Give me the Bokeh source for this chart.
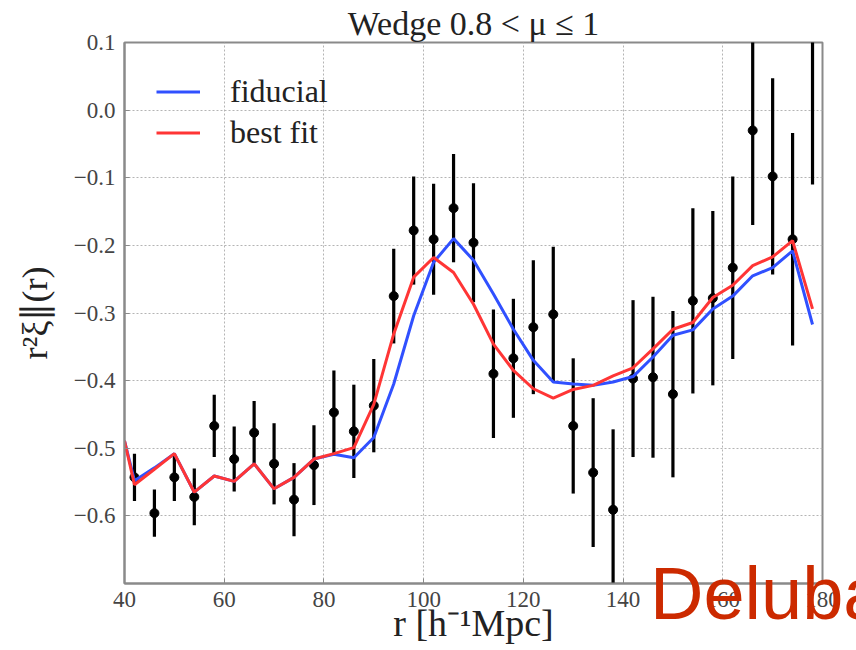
from bokeh.plotting import figure
from bokeh.layouts import column
from bokeh.models import Range1d, FixedTicker, Legend, LegendItem, ColumnDataSource, Div
from bokeh.embed import file_html
from bokeh.resources import INLINE

# ---- data ----
r_data = [42, 46, 50, 54, 58, 62, 66, 70, 74, 78, 82, 86, 90, 94, 98, 102, 106,
          110, 114, 118, 122, 126, 130, 134, 138, 142, 146, 150, 154, 158, 162,
          166, 170, 174, 178]
xi_data = [-0.543, -0.596, -0.543, -0.572, -0.467, -0.516, -0.477, -0.523, -0.576,
           -0.525, -0.447, -0.475, -0.437, -0.275, -0.178, -0.191, -0.145, -0.196,
           -0.390, -0.367, -0.321, -0.302, -0.467, -0.536, -0.591, -0.397, -0.395,
           -0.420, -0.282, -0.278, -0.233, -0.030, -0.098, -0.191, 0.110]
xi_err = [0.035, 0.035, 0.035, 0.042, 0.046, 0.048, 0.047, 0.060, 0.054, 0.059,
          0.062, 0.069, 0.069, 0.070, 0.080, 0.082, 0.080, 0.088, 0.095, 0.088,
          0.099, 0.100, 0.100, 0.110, 0.119, 0.116, 0.119, 0.123, 0.137, 0.129,
          0.135, 0.140, 0.145, 0.157, 0.220]

r_model = [40, 42, 46, 50, 54, 58, 62, 66, 70, 74, 78, 82, 86, 90, 94, 98, 102,
           106, 110, 114, 118, 122, 126, 130, 134, 138, 142, 146, 150, 154, 158,
           162, 166, 170, 174, 178]
fiducial = [-0.489, -0.548, -0.529, -0.508, -0.565, -0.541, -0.549, -0.523, -0.560,
            -0.543, -0.516, -0.509, -0.514, -0.484, -0.405, -0.304, -0.225, -0.190,
            -0.222, -0.272, -0.324, -0.370, -0.402, -0.405, -0.407, -0.402, -0.394,
            -0.365, -0.333, -0.325, -0.294, -0.275, -0.245, -0.233, -0.208, -0.317]
best_fit = [-0.489, -0.554, -0.531, -0.508, -0.565, -0.541, -0.549, -0.523, -0.560,
            -0.543, -0.516, -0.508, -0.499, -0.435, -0.331, -0.247, -0.218, -0.240,
            -0.287, -0.346, -0.385, -0.412, -0.426, -0.413, -0.407, -0.393, -0.381,
            -0.353, -0.324, -0.314, -0.277, -0.259, -0.230, -0.217, -0.193, -0.294]

x_ticks = [40, 60, 80, 100, 120, 140, 160, 180]
x_tick_labels = ["40", "60", "80", "100", "120", "140", "160", "180"]
y_ticks = [0.1, 0.0, -0.1, -0.2, -0.3, -0.4, -0.5, -0.6]
y_tick_labels = ["0.1", "0.0", "\u22120.1", "\u22120.2", "\u22120.3", "\u22120.4",
                 "\u22120.5", "\u22120.6"]

title_text = "Wedge 0.8 < \u03bc \u2264 1"
x_label = "r [h\u207b\u00b9Mpc]"
y_label = "r\u00b2\u03be\u2225(r)"
series_names = ["fiducial", "best fit"]
stamp_text = "Deluba"

SERIF = "Liberation Serif"

p = figure(width=856, height=650, output_backend="svg", toolbar_location=None,
           x_range=Range1d(40, 180), y_range=Range1d(-0.7, 0.1),
           min_border_left=124, min_border_right=34, min_border_top=42,
           min_border_bottom=67)
p.background_fill_color = "white"
p.border_fill_color = "white"
p.outline_line_color = "#8a8a8a"
p.outline_line_width = 2

p.title.text = title_text
p.title.align = "center"
p.title.text_font = SERIF
p.title.text_font_size = "34px"
p.title.text_font_style = "normal"
p.title.text_color = "#222222"
p.title.standoff = 2

for ax in (p.xaxis[0], p.yaxis[0]):
    ax.axis_line_color = "#8a8a8a"
    ax.axis_line_width = 2
    ax.major_tick_in = 5
    ax.major_tick_out = 0
    ax.major_tick_line_color = "#8a8a8a"
    ax.minor_tick_line_color = None
    ax.major_label_text_font = SERIF
    ax.major_label_text_font_size = "23px"
    ax.major_label_text_color = "#444444"
    ax.axis_label_text_font = SERIF
    ax.axis_label_text_font_style = "normal"
    ax.axis_label_text_color = "#222222"

p.xaxis[0].ticker = FixedTicker(ticks=x_ticks)
p.xaxis[0].major_label_overrides = {t: s for t, s in zip(x_ticks, x_tick_labels)}
p.xaxis[0].major_label_standoff = 8
p.xaxis[0].axis_label = x_label
p.xaxis[0].axis_label_text_font_size = "38px"
p.xaxis[0].axis_label_standoff = -8

p.yaxis[0].ticker = FixedTicker(ticks=y_ticks)
p.yaxis[0].major_label_overrides = {t: s for t, s in zip(y_ticks, y_tick_labels)}
p.yaxis[0].major_label_standoff = 9
p.yaxis[0].axis_label = y_label
p.yaxis[0].axis_label_text_font_size = "36px"
p.yaxis[0].axis_label_standoff = 16

for g in (p.xgrid[0], p.ygrid[0]):
    g.grid_line_color = "#b4b4b4"
    g.grid_line_dash = "2 2"
    g.grid_line_width = 1

src = ColumnDataSource(dict(
    r=r_data, xi=xi_data,
    lo=[v - e for v, e in zip(xi_data, xi_err)],
    hi=[v + e for v, e in zip(xi_data, xi_err)],
))
p.segment(x0="r", y0="lo", x1="r", y1="hi", source=src, line_color="black",
          line_width=3.2)
p.scatter(x="r", y="xi", source=src, size=9, color="black")

msrc = ColumnDataSource(dict(r=r_model, fid=fiducial, best=best_fit))
l_fid = p.line(x="r", y="fid", source=msrc, line_color="#3050ff", line_width=3)
l_best = p.line(x="r", y="best", source=msrc, line_color="#ff3535", line_width=3)

legend = Legend(items=[LegendItem(label=series_names[0], renderers=[l_fid]),
                       LegendItem(label=series_names[1], renderers=[l_best])],
                location=(32, 430))
legend.background_fill_alpha = 0
legend.border_line_color = None
legend.label_text_font = SERIF
legend.label_text_font_size = "32px"
legend.label_text_color = "#222222"
legend.glyph_width = 44
legend.glyph_height = 41
legend.label_height = 41
legend.label_standoff = 30
legend.spacing = 0
legend.padding = 10
legend.margin = 0
p.add_layout(legend)

# red stamp text laid over the plot's lower-right corner (as in the slide)
stamp = Div(text=stamp_text, width=206, height=83, margin=(-93, 0, 0, 650),
            styles={"color": "#cc2a00",
                    "font-family": "'Liberation Sans', Arial, sans-serif",
                    "font-size": "74px", "line-height": "1",
                    "white-space": "nowrap", "overflow": "hidden"})

layout = column(p, stamp, spacing=0)
open("out.html", "w").write(file_html(layout, INLINE))
